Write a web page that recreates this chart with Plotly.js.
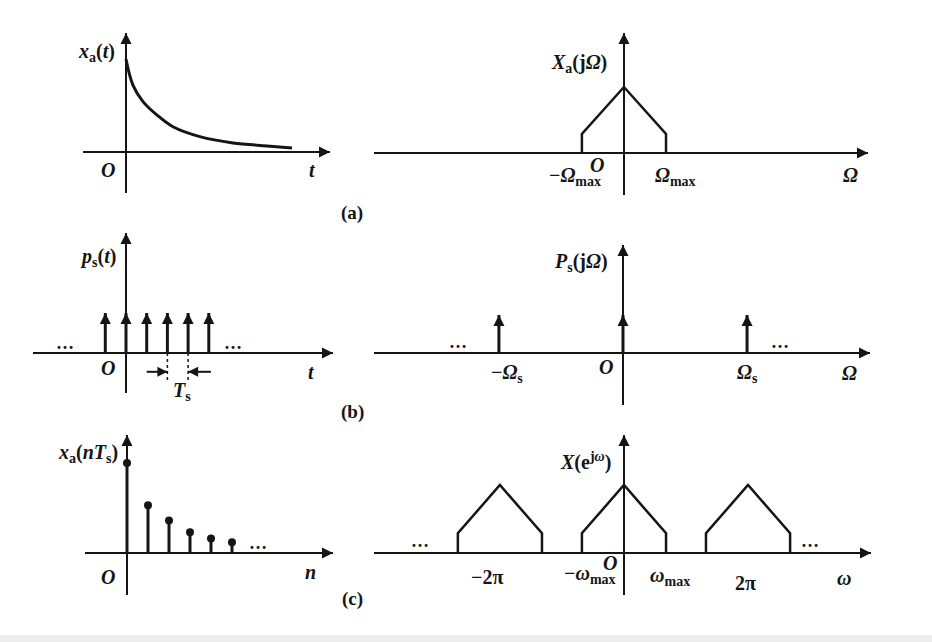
<!DOCTYPE html>
<html><head><meta charset="utf-8">
<script src="https://cdn.plot.ly/plotly-3.0.1.min.js"></script>
<style>html,body{margin:0;padding:0;background:#fff;}#chart{width:932px;height:642px;}</style>
</head><body><div id="chart"></div>
<script>
// (a) continuous signal x_a(t)
const curveT = [0, 0.34, 0.82, 1.5, 2.27, 3.57, 5.17, 6.81, 8.02];
const curveX = [1.03, 0.74, 0.56, 0.41, 0.28, 0.17, 0.10, 0.067, 0.044];
// (a) spectrum X_a(jΩ)
const specW = [-2.13, -2.13, 0, 2.13, 2.13];
const specA = [0, 0.29, 1, 0.29, 0];
// (b) impulse train p_s(t)
const impulseT = [-1, 0, 1, 2, 3, 4];
const impulseH = [1, 1, 1, 1, 1, 1];
// (b) spectrum P_s(jΩ)
const impulseW = [-6.283, 0, 6.283];
const impulseWH = [1, 1, 1];
// (c) samples x_a(nTs)
const sampleN = [0, 1, 2, 3, 4, 5];
const sampleX = [1.0, 0.53, 0.36, 0.23, 0.16, 0.12];
// (c) periodic spectrum X(e^jω): copy centres
const copyCenters = [-6.283, 0, 6.283];

const INK = '#151515';
const FONT = 'Liberation Serif, Times New Roman, serif';

function stems(xs, ys) {
  const X = [], Y = [];
  xs.forEach((x, i) => { X.push(x, x, null); Y.push(0, ys[i], null); });
  return {X, Y};
}

const W = 932, H = 642;
function dx(a, b) { return [a / W, b / W]; }
function dy(top, bot) { return [1 - bot / H, 1 - top / H]; }
const panels = [
  {x: dx(83, 330),  xr: [-2.077, 9.855],  y: dy(33, 193),  yr: [-0.456, 1.322]},
  {x: dx(374, 868), xr: [-12.66, 12.36],  y: dy(33, 195),  yr: [-0.636, 1.818]},
  {x: dx(33, 333),  xr: [-4.493, 10.0],   y: dy(233, 393), yr: [-1, 3]},
  {x: dx(374, 870), xr: [-12.61, 12.51],  y: dy(245, 405), yr: [-1.368, 2.842]},
  {x: dx(85, 333),  xr: [-2, 9.81],       y: dy(435, 595), yr: [-0.467, 1.311]},
  {x: dx(374, 871), xr: [-12.66, 12.51],  y: dy(435, 595), yr: [-0.618, 1.735]}
];

const layout = {
  width: W, height: H,
  margin: {l: 0, r: 0, t: 0, b: 0},
  paper_bgcolor: '#fff', plot_bgcolor: 'rgba(0,0,0,0)',
  showlegend: false,
  annotations: [],
  shapes: [{type: 'rect', xref: 'paper', yref: 'paper', x0: 0, x1: 1, y0: 0, y1: 7 / H,
            fillcolor: '#ededed', line: {width: 0}, layer: 'below'}]
};
const traces = [];

panels.forEach((p, i) => {
  const k = i === 0 ? '' : String(i + 1);
  const base = {showgrid: false, zeroline: true, zerolinecolor: INK, zerolinewidth: 2,
                showticklabels: false, ticks: '', showline: false, fixedrange: true};
  layout['xaxis' + k] = Object.assign({}, base, {domain: p.x, range: p.xr, anchor: 'y' + k});
  layout['yaxis' + k] = Object.assign({}, base, {domain: p.y, range: p.yr, anchor: 'x' + k});
  traces.push({x: [0, p.xr[1]], y: [p.yr[1], 0], xaxis: 'x' + k, yaxis: 'y' + k,
    mode: 'markers', cliponaxis: false, hoverinfo: 'skip',
    marker: {symbol: ['arrow-up', 'arrow-right'], size: 11, color: INK, line: {width: 0}}});
});

traces.push({x: curveT, y: curveX, xaxis: 'x', yaxis: 'y', mode: 'lines',
  line: {color: INK, width: 3, shape: 'spline', smoothing: 1}, hoverinfo: 'skip'});
traces.push({x: specW, y: specA, xaxis: 'x2', yaxis: 'y2', mode: 'lines',
  line: {color: INK, width: 2.5}, hoverinfo: 'skip'});
let s = stems(impulseT, impulseH);
traces.push({x: s.X, y: s.Y, xaxis: 'x3', yaxis: 'y3', mode: 'lines',
  line: {color: INK, width: 3}, hoverinfo: 'skip'});
traces.push({x: impulseT, y: impulseH, xaxis: 'x3', yaxis: 'y3', mode: 'markers', cliponaxis: false,
  marker: {symbol: 'arrow-up', size: 11, color: INK, line: {width: 0}}, hoverinfo: 'skip'});
const dimT = [impulseT[3], impulseT[4]];
traces.push({x: [dimT[0], dimT[0], null, dimT[1], dimT[1]], y: [0, -0.72, null, 0, -0.72],
  xaxis: 'x3', yaxis: 'y3', mode: 'lines', line: {color: INK, width: 1.5, dash: 'dot'}, hoverinfo: 'skip'});
traces.push({x: [dimT[0] - 1, dimT[0], null, dimT[1] + 1.1, dimT[1]], y: [-0.47, -0.47, null, -0.47, -0.47],
  xaxis: 'x3', yaxis: 'y3', mode: 'lines', line: {color: INK, width: 2}, hoverinfo: 'skip'});
traces.push({x: dimT, y: [-0.47, -0.47], xaxis: 'x3', yaxis: 'y3', mode: 'markers',
  marker: {symbol: ['arrow-right', 'arrow-left'], size: 10, color: INK, line: {width: 0}}, hoverinfo: 'skip'});
s = stems(impulseW, impulseWH);
traces.push({x: s.X, y: s.Y, xaxis: 'x4', yaxis: 'y4', mode: 'lines',
  line: {color: INK, width: 3}, hoverinfo: 'skip'});
traces.push({x: impulseW, y: impulseWH, xaxis: 'x4', yaxis: 'y4', mode: 'markers', cliponaxis: false,
  marker: {symbol: 'arrow-up', size: 11, color: INK, line: {width: 0}}, hoverinfo: 'skip'});
s = stems(sampleN, sampleX);
traces.push({x: s.X, y: s.Y, xaxis: 'x5', yaxis: 'y5', mode: 'lines',
  line: {color: INK, width: 3}, hoverinfo: 'skip'});
traces.push({x: sampleN, y: sampleX, xaxis: 'x5', yaxis: 'y5', mode: 'markers', cliponaxis: false,
  marker: {symbol: 'circle', size: 8, color: INK, line: {width: 0}}, hoverinfo: 'skip'});
copyCenters.forEach(c => {
  traces.push({x: specW.map(w => w + c), y: specA, xaxis: 'x6', yaxis: 'y6', mode: 'lines',
    line: {color: INK, width: 2.5}, hoverinfo: 'skip'});
});

function lab(text, x, y, ax, opts) {
  const k = ax === 1 ? '' : String(ax);
  layout.annotations.push(Object.assign({text, x, y, xref: 'x' + k, yref: 'y' + k, showarrow: false,
    xanchor: 'center', yanchor: 'middle', font: {family: FONT, size: 20, color: INK, weight: 'bold'}}, opts || {}));
}
function plab(text, x, y) {
  layout.annotations.push({text, x, y, xref: 'paper', yref: 'paper', showarrow: false,
    font: {family: FONT, size: 19, color: INK, weight: 'bold'}});
}
const dots = '…';
const dotFont = {family: FONT, size: 18, color: INK, weight: 'bold'};
// row (a)
lab('<i>x</i><sub>a</sub>(<i>t</i>)', -0.43, 1.1, 1, {xanchor: 'right'});
lab('<i>O</i>', -0.87, -0.2, 1);
lab('<i>t</i>', 9.03, -0.2, 1);
lab('<i>X</i><sub>a</sub>(j<i>Ω</i>)', -0.76, 1.35, 2, {xanchor: 'right'});
lab('−<i>Ω</i><sub>max</sub>', -1.06, -0.35, 2, {xanchor: 'right'});
lab('<i>O</i>', -1.37, -0.18, 2);
lab('<i>Ω</i><sub>max</sub>', 1.47, -0.35, 2, {xanchor: 'left'});
lab('<i>Ω</i>', 11.45, -0.33, 2);
plab('(a)', 352 / W, 1 - 200 / H);
// row (b)
lab('<i>p</i><sub>s</sub>(<i>t</i>)', -0.39, 2.4, 3, {xanchor: 'right'});
lab('<i>O</i>', -0.87, -0.375, 3);
lab('<i>t</i>', 8.94, -0.475, 3);
lab(dots, -2.95, 0.25, 3, {font: dotFont});
lab(dots, 5.17, 0.25, 3, {font: dotFont});
lab('<i>T</i><sub>s</sub>', 2.7, -0.95, 3);
lab('<i>P</i><sub>s</sub>(j<i>Ω</i>)', -0.66, 2.37, 4, {xanchor: 'right'});
lab('−<i>Ω</i><sub>s</sub>', -5.88, -0.53, 4);
lab('<i>O</i>', -0.86, -0.37, 4);
lab('<i>Ω</i><sub>s</sub>', 6.33, -0.53, 4);
lab('<i>Ω</i>', 11.45, -0.53, 4);
lab(dots, -8.36, 0.3, 4, {font: dotFont});
lab(dots, 7.95, 0.3, 4, {font: dotFont});
plab('(b)', 352 / W, 1 - 412 / H);
// row (c)
lab('<i>x</i><sub>a</sub>(<i>nT</i><sub>s</sub>)', -0.33, 1.11, 5, {xanchor: 'right'});
lab('<i>O</i>', -0.9, -0.27, 5);
lab('<i>n</i>', 8.76, -0.21, 5);
lab(dots, 6.24, 0.11, 5, {font: dotFont});
lab('<i>X</i>(e<sup>j<i>ω</i></sup>)', -0.56, 1.34, 6, {xanchor: 'right'});
lab('−2π', -6.94, -0.35, 6);
lab('−<i>ω</i><sub>max</sub>', -0.3, -0.32, 6, {xanchor: 'right'});
lab('<i>O</i>', -0.71, -0.15, 6);
lab('<i>ω</i><sub>max</sub>', 1.22, -0.35, 6, {xanchor: 'left'});
lab('2π', 6.13, -0.44, 6);
lab('<i>ω</i>', 11.15, -0.37, 6);
lab(dots, -10.33, 0.17, 6, {font: dotFont});
lab(dots, 9.42, 0.17, 6, {font: dotFont});
plab('(c)', 352 / W, 1 - 612 / H);

Plotly.newPlot('chart', traces, layout, {staticPlot: true, displayModeBar: false});
</script></body></html>
